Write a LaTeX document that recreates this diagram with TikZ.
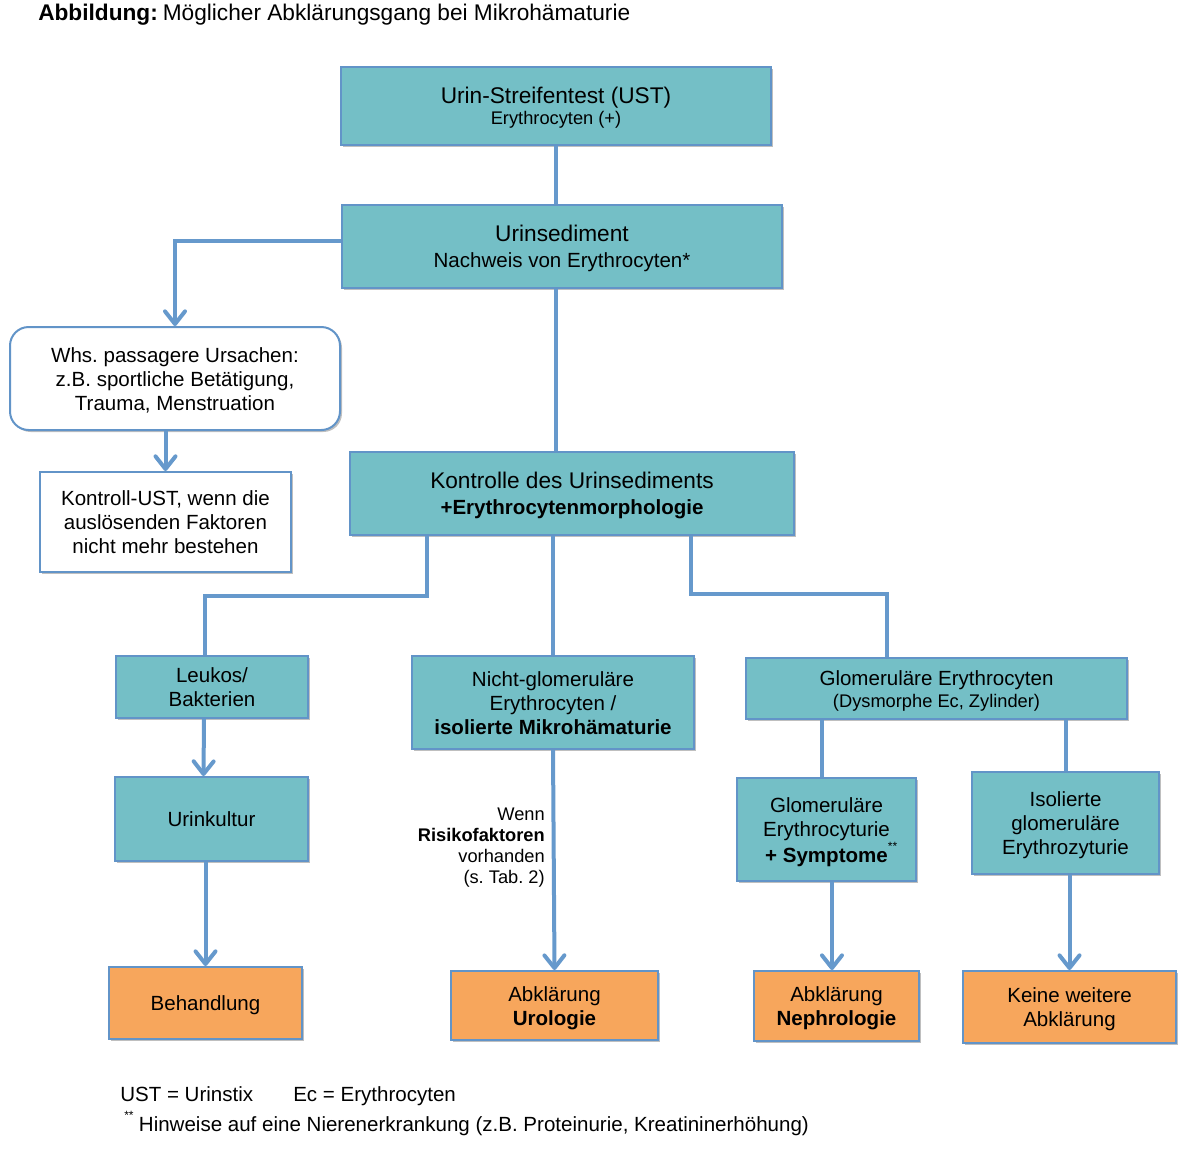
\documentclass[tikz,border=0pt]{standalone}
\usepackage{fontspec}
\setmainfont{Liberation Sans}
\usetikzlibrary{arrows.meta,shadows}
\definecolor{teal1}{RGB}{116,191,198}
\definecolor{bord}{RGB}{98,148,200}
\definecolor{orng}{RGB}{247,166,92}
\definecolor{conn}{RGB}{102,153,204}
\newcommand\myT{\fontsize{17}{20}\selectfont}
\newcommand\myB{\fontsize{15.4}{18}\selectfont}
\newcommand\myS{\fontsize{13.7}{15.75}\selectfont}
\newcommand\mystars{\raisebox{1.1ex}{\fontsize{9}{9}\selectfont **}}
\newcommand\sT{\rule{0pt}{15.8pt}}
\newcommand\sB{\rule[-4pt]{0pt}{4pt}}
\frenchspacing
\begin{document}
\begin{tikzpicture}[x=0.75pt,y=-0.75pt,
  shd/.style={drop shadow={shadow xshift=1.5pt,shadow yshift=-1.5pt,opacity=0.25,fill=black}},
  box/.style={draw=bord,line width=1.5pt,fill=teal1,align=center,inner sep=1pt,font=\myB,shd},
  obox/.style={box,fill=orng},
  wbox/.style={box,fill=white},
  sz/.style 2 args={minimum width=#1*0.75pt,minimum height=#2*0.75pt},
  conline/.style={draw=conn,line width=3pt},
  arr/.style={conline,-{Straight Barb[length=9.5pt,width=15pt,round]}},
  txt/.style={inner sep=0pt,font=\myB}
]
\useasboundingbox (0,0) rectangle (1194,1158);

% title
\node[txt,font=\myT,anchor=base west] (title) at (38,20.5) {\textbf{Abbildung:}\hspace{-1pt} Möglicher Abklärungsgang bei Mikrohämaturie};

% boxes
\node[box,sz={430}{78},font=\myT] (ust) at (556,106) {\sT Urin-Streifentest (UST)\\[-4pt]{\myS Erythrocyten (+)\sB}};
\node[box,sz={440}{83},font=\myT] (sed) at (562,246.5) {\sT Urinsediment\\[-1pt]{\myB Nachweis von Erythrocyten*\sB}};
\node[wbox,sz={330}{103},rounded corners=14pt] (whs) at (175,378.5) {\sT Whs. passagere Ursachen:\\z.B. sportliche Betätigung,\\Trauma, Menstruation\sB};
\node[wbox,sz={251}{100}] (kon) at (165.5,522) {\sT Kontroll-UST, wenn die\\auslösenden Faktoren\\nicht mehr bestehen\sB};
\node[box,sz={444}{83},font=\myT] (kont) at (572,493.5) {\sT Kontrolle des Urinsediments\\[-1pt]{\myB\bfseries +Erythrocytenmorphologie\sB}};
\node[box,sz={192}{62}] (leuk) at (212,687) {\sT Leukos/\\Bakterien\sB};
\node[box,sz={282}{93}] (nicht) at (553,702.5) {\sT Nicht-glomeruläre\\Erythrocyten /\\\textbf{isolierte Mikrohämaturie}\sB};
\node[box,sz={381}{61}] (glom) at (936.5,688.5) {\sT Glomeruläre Erythrocyten\\[-2pt]{\myS (Dysmorphe Ec, Zylinder)\sB}};
\node[box,sz={193}{84}] (urink) at (211.5,819) {\sT Urinkultur\sB};
\node[box,sz={179}{103}] (glomery) at (826.5,829.5) {\sT Glomeruläre\\Erythrocyturie\\\textbf{+ Symptome}\rlap{\mystars}\sB};
\node[box,sz={187}{102}] (iso) at (1065.5,823) {\sT Isolierte\\glomeruläre\\Erythrozyturie\sB};
\node[obox,sz={193}{72}] (beh) at (205.5,1003) {\sT Behandlung\sB};
\node[obox,sz={207}{69}] (uro) at (554.5,1005.5) {\sT Abklärung\\\textbf{Urologie}\sB};
\node[obox,sz={165}{70}] (neph) at (836.5,1006) {\sT Abklärung\\\textbf{Nephrologie}\sB};
\node[obox,sz={213}{72}] (keine) at (1069.5,1007) {\sT Keine weitere\\Abklärung\sB};

% connectors
\draw[conline] (ust.south) -- (ust.south |- sed.north);
\draw[arr] ([yshift=4pt]sed.west) -| (whs.north);
\draw[arr] (kon.north |- whs.south) -- (kon.north);
\draw[conline] (sed.south -| ust.south) -- (kont.north -| ust.south);
\draw[conline] ([xshift=-108.75pt]kont.south) -- ++(0,60) -| ([xshift=-5.25pt]leuk.north);
\draw[conline] (nicht.north |- kont.south) -- (nicht.north);
\draw[conline] ([xshift=89.25pt]kont.south) -- ++(0,58) -| ([xshift=-37.125pt]glom.north);
\draw[arr] ([xshift=-6pt]leuk.south) -- ([xshift=-6pt]urink.north);
\draw[arr] (beh.north |- urink.south) -- (beh.north);
\draw[arr] (nicht.south) -- (uro.north);
\draw[conline] ([xshift=-3.4pt]glomery.north |- glom.south) -- ([xshift=-3.4pt]glomery.north);
\draw[conline] (iso.north |- glom.south) -- (iso.north);
\draw[arr] ([xshift=-3.4pt]neph.north |- glomery.south) -- ([xshift=-3.4pt]neph.north);
\draw[arr] (keine.north |- iso.south) -- (keine.north);

% label
\node[txt,font=\myS,align=right,anchor=east] (wenn) at (545,848) {Wenn\\\textbf{Risikofaktoren}\\vorhanden\\(s. Tab. 2)};

% footer
\node[txt,anchor=base west] (f1) at (120,1101) {UST = Urinstix};
\node[txt,anchor=base west] (f2) at (293,1101) {Ec = Erythrocyten};
\node[txt,anchor=base west] (f3) at (124,1131) {\mystars\hspace{4pt}Hinweise auf eine Nierenerkrankung (z.B. Proteinurie, Kreatininerhöhung)};
\end{tikzpicture}
\end{document}
